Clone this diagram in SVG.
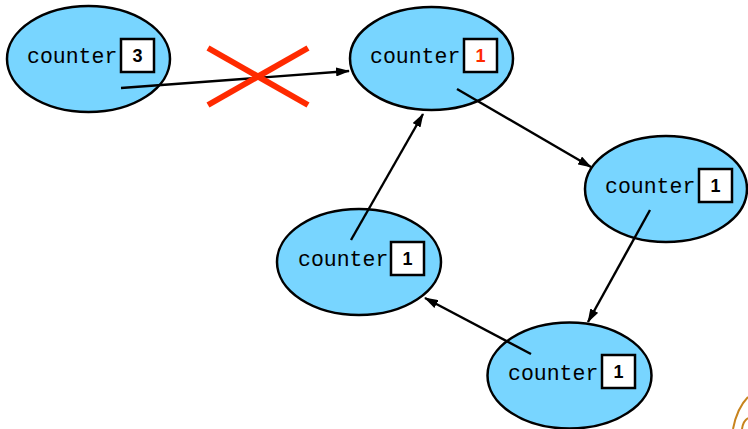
<svg xmlns="http://www.w3.org/2000/svg" width="748" height="429" viewBox="0 0 748 429">
  <defs>
    <marker id="arrow" viewBox="0 0 14 9" refX="13" refY="4.5" markerWidth="14" markerHeight="9" markerUnits="userSpaceOnUse" orient="auto">
      <path d="M0,0 L14,4.5 L0,9 Z" fill="#000"/>
    </marker>
  </defs>
  <style>
    .node ellipse { fill: #78d5ff; stroke: #000; stroke-width: 2.5; }
    .node rect { fill: #fff; stroke: #000; stroke-width: 2.5; }
    .label { font-family: "Liberation Mono", "Courier New", monospace; font-size: 21.5px; fill: #000; }
    .count { font-family: "Liberation Sans", Arial, sans-serif; font-weight: bold; font-size: 18px; fill: #000; text-anchor: middle; }
    .count.red { fill: #ff2a00; }
    .edge { stroke: #000; stroke-width: 2.4; fill: none; marker-end: url(#arrow); }
    .cross { stroke: #ff2a00; stroke-width: 6; }
  </style>
  <rect width="748" height="429" fill="#fff"/>

  <g id="node-a" class="node">
    <ellipse cx="88.5" cy="59" rx="81.5" ry="53"/>
    <text class="label" x="27" y="63">counter</text>
    <rect x="121" y="39" width="33" height="33"/>
    <text class="count" x="137.5" y="62">3</text>
  </g>

  <g id="node-b" class="node">
    <ellipse cx="431.5" cy="58.5" rx="81.5" ry="51.5"/>
    <text class="label" x="370" y="63">counter</text>
    <rect x="464" y="39" width="33" height="33"/>
    <text class="count red" x="480.5" y="62">1</text>
  </g>

  <g id="node-c" class="node">
    <ellipse cx="666" cy="189" rx="81" ry="53"/>
    <text class="label" x="605" y="193">counter</text>
    <rect x="699" y="169" width="33" height="33"/>
    <text class="count" x="715.5" y="192">1</text>
  </g>

  <g id="node-d" class="node">
    <ellipse cx="569.5" cy="375.5" rx="82" ry="53"/>
    <text class="label" x="508" y="380">counter</text>
    <rect x="602" y="355" width="33" height="33"/>
    <text class="count" x="618.5" y="378">1</text>
  </g>

  <g id="node-e" class="node">
    <ellipse cx="359" cy="262" rx="82" ry="53"/>
    <text class="label" x="298" y="266">counter</text>
    <rect x="391" y="242" width="33" height="33"/>
    <text class="count" x="407.5" y="265">1</text>
  </g>

  <g id="connectors">
    <line class="edge" x1="121" y1="88" x2="349" y2="71"/>
    <line class="edge" x1="457" y1="89" x2="591" y2="167"/>
    <line class="edge" x1="650" y1="210" x2="588" y2="322"/>
    <line class="edge" x1="531" y1="354" x2="425" y2="298"/>
    <line class="edge" x1="351" y1="240" x2="423" y2="114"/>
  </g>

  <!-- removed reference marker -->
  <g id="cross">
    <line class="cross" x1="208" y1="48" x2="308" y2="105"/>
    <line class="cross" x1="208" y1="105" x2="308" y2="48"/>
  </g>

  <!-- partial emblem at the lower-right corner -->
  <g id="emblem" fill="none" stroke="#c8841e" stroke-width="2">
    <path d="M733,429 Q737,408 748,397"/>
    <path d="M742,429 Q743,421 748,418"/>
  </g>
</svg>
